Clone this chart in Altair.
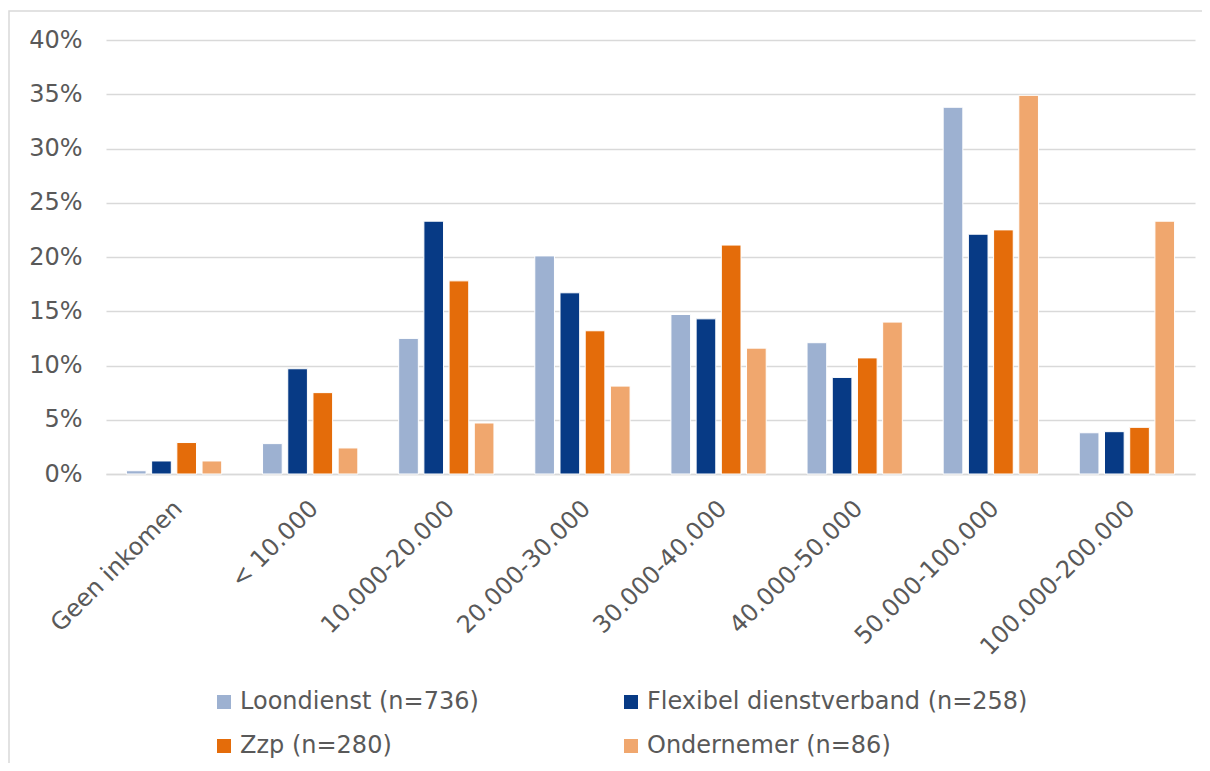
import altair as alt
import pandas as pd

categories = ["Geen inkomen", "< 10.000", "10.000-20.000", "20.000-30.000",
              "30.000-40.000", "40.000-50.000", "50.000-100.000", "100.000-200.000"]
series = ["Loondienst (n=736)", "Flexibel dienstverband (n=258)", "Zzp (n=280)", "Ondernemer (n=86)"]
loondienst = [0.3, 2.8, 12.5, 20.1, 14.7, 12.1, 33.8, 3.8]
flexibel = [1.2, 9.7, 23.3, 16.7, 14.3, 8.9, 22.1, 3.9]
zzp = [2.9, 7.5, 17.8, 13.2, 21.1, 10.7, 22.5, 4.3]
ondernemer = [1.2, 2.4, 4.7, 8.1, 11.6, 14.0, 34.9, 23.3]
colors = ["#9DB1D1", "#073A85", "#E46C0A", "#F0A76E"]

rows = []
for s, vals in zip(series, [loondienst, flexibel, zzp, ondernemer]):
    for c, v in zip(categories, vals):
        rows.append({"cat": c, "serie": s, "val": v / 100})
df = pd.DataFrame(rows)

FONT = "DejaVu Sans"
GREY = "#595959"
FS = 24

bars = alt.Chart(df).mark_bar(stroke="white", strokeWidth=1).encode(
    x=alt.X("cat:N", sort=categories, title=None,
            scale=alt.Scale(paddingInner=0.3, paddingOuter=0.15),
            axis=alt.Axis(labelAngle=-45, labelFontSize=FS, labelColor=GREY, labelFont=FONT,
                          ticks=False, domainColor="#D9D9D9", domainWidth=1.5,
                          labelPadding=22, labelLimit=400, labelOffset=-4, grid=False)),
    xOffset=alt.XOffset("serie:N", sort=series, scale=alt.Scale(paddingInner=0.22)),
    y=alt.Y("val:Q", title=None,
            scale=alt.Scale(domain=[0, 0.4]),
            axis=alt.Axis(format=".0%", values=[0, 0.05, 0.1, 0.15, 0.2, 0.25, 0.3, 0.35, 0.4],
                          labelFontSize=FS, labelColor=GREY, labelFont=FONT,
                          ticks=False, domain=False, labelPadding=24,
                          gridColor="#D9D9D9", gridWidth=1.5)),
    color=alt.Color("serie:N", sort=series, title=None,
                    scale=alt.Scale(domain=series, range=colors),
                    legend=alt.Legend(orient="none", legendX=106, legendY=650, columns=2,
                                      symbolType="square", symbolSize=196, symbolStrokeWidth=0,
                                      labelFontSize=FS, labelColor=GREY, labelFont=FONT,
                                      labelOffset=4, columnPadding=140, rowPadding=20,
                                      labelLimit=600, direction="horizontal")),
)

border = alt.Chart(pd.DataFrame({"a": [0]})).mark_rect(
    fill=None, stroke="#D9D9D9", strokeWidth=1.5, clip=False
).encode(x=alt.value(-97), x2=alt.value(1200), y=alt.value(-29), y2=alt.value(800))

chart = alt.layer(border, bars).properties(
    width=1089, height=434,
    autosize=alt.AutoSizeParams(type="none"),
    padding={"left": 98, "top": 32, "right": 7, "bottom": 289},
).configure_view(stroke=None)

chart.save("out.html", embed_options={"renderer": "svg", "actions": False})
